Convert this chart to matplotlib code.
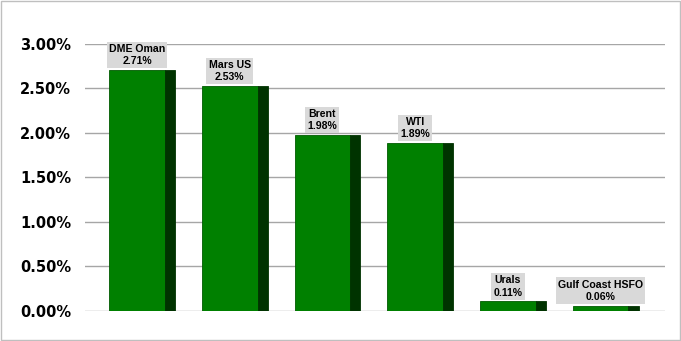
import matplotlib.pyplot as plt
from matplotlib import patches
from matplotlib.ticker import FuncFormatter

grades = ["DME Oman", "Mars US", "Brent", "WTI", "Urals", "Gulf Coast HSFO"]
values = [0.0271, 0.0253, 0.0198, 0.0189, 0.0011, 0.0006]

fig = plt.figure(figsize=(6.81, 3.41), dpi=100)
ax = fig.add_axes([0.125, 0.088, 0.851, 0.783])

xs = list(range(len(grades)))
front_w = 0.60
side_w = 0.11
left = -0.355

# front face and darker side face of each bar
ax.bar([x + left + front_w / 2 for x in xs], values, width=front_w,
       color="#008000", edgecolor="#005a00", linewidth=0.6, zorder=3)
ax.bar([x + left + front_w + side_w / 2 for x in xs], values, width=side_w,
       color="#003300", edgecolor="#003300", linewidth=0.6, zorder=3)

for x, v, name in zip(xs, values, grades):
    ax.text(x + left + front_w / 2, v + 0.0004, f"{name}\n{v * 100:.2f}%",
            ha="center", va="bottom", fontsize=7.6, fontweight="bold",
            family="Liberation Sans", linespacing=1.3, zorder=5,
            bbox=dict(facecolor="#d9d9d9", edgecolor="none", pad=1.6))

ax.set_ylim(0, 0.03)
ax.set_xlim(-0.614, 5.636)
ax.set_yticks([i * 0.005 for i in range(7)])
ax.yaxis.set_major_formatter(FuncFormatter(lambda y, _: f"{y * 100:.2f}%"))
ax.set_xticks([])
ax.grid(axis="y", color="#a6a6a6", linewidth=1, zorder=0)
ax.tick_params(axis="y", length=0, pad=10)
for lbl in ax.get_yticklabels():
    lbl.set_fontweight("bold")
    lbl.set_fontsize(10.5)
for s in ax.spines.values():
    s.set_visible(False)

fig.patches.append(patches.Rectangle((0.001, 0.002), 0.997, 0.995,
                                     transform=fig.transFigure, fill=False,
                                     edgecolor="#bfbfbf", linewidth=1))

fig.savefig("out.png", dpi=100)
